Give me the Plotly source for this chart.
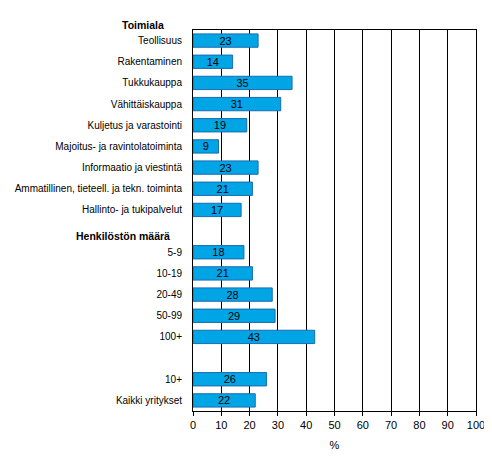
"""Horizontal bar chart: share of enterprises by industry and size class"""

import plotly.graph_objects as go

# Category labels (empty strings are spacer rows between groups)
industries = ['Teollisuus', 'Rakentaminen', 'Tukkukauppa', 'Vähittäiskauppa',
              'Kuljetus ja varastointi', 'Majoitus- ja ravintolatoiminta',
              'Informaatio ja viestintä', 'Ammatillinen, tieteell. ja tekn. toiminta',
              'Hallinto- ja tukipalvelut']
industry_values = [23, 14, 35, 31, 19, 9, 23, 21, 17]

size_classes = ['5-9', '10-19', '20-49', '50-99', '100+']
size_values = [18, 21, 28, 29, 43]

totals = ['10+', 'Kaikki yritykset']
total_values = [26, 22]

x_ticks = [0, 10, 20, 30, 40, 50, 60, 70, 80, 90, 100]

# Spacer rows keep the gaps between the groups
categories = industries + [' '] + size_classes + ['  '] + totals
values = industry_values + [None] + size_values + [None] + total_values
labels = [str(v) if v is not None else '' for v in values]

font_family = 'Arial, Liberation Sans, sans-serif'

fig = go.Figure(go.Bar(
    x=values,
    y=categories,
    orientation='h',
    text=labels,
    textposition='inside',
    insidetextanchor='middle',
    textangle=0,
    constraintext='none',
    textfont=dict(color='black', size=11, family=font_family),
    marker=dict(color='#00A5E6', line=dict(color='#1A6BB0', width=1)),
    hoverinfo='x+y',
))

# page body adds 8px margin, so the figure is a bit smaller than the window
fig.update_layout(
    width=484, height=463,
    margin=dict(l=185, r=16, t=22, b=60),
    paper_bgcolor='white', plot_bgcolor='white',
    font=dict(family=font_family, size=10, color='black'),
    bargap=0.37,
    showlegend=False,
    xaxis=dict(range=[0, 100], tickvals=x_ticks, showgrid=True, gridcolor='black',
               gridwidth=1, showline=True, linecolor='black', linewidth=1, mirror=True,
               ticks='outside', ticklen=4, tickcolor='black', zeroline=False,
               tickfont=dict(size=11), automargin=False,
               title=dict(text='%', standoff=11, font=dict(size=11)), fixedrange=True),
    yaxis=dict(categoryorder='array', categoryarray=categories, autorange='reversed',
               showline=True, linecolor='black', linewidth=1, mirror=True,
               showgrid=False, ticks='', ticklabelstandoff=8, automargin=False,
               fixedrange=True),
    annotations=[
        dict(text='<b>Toimiala</b>', xref='paper', yref='paper', x=-0.095, y=1.013,
             xanchor='right', yanchor='middle', showarrow=False,
             font=dict(size=10.5, family=font_family)),
        dict(text='<b>Henkilöstön määrä</b>', xref='paper', yref='paper', x=-0.074, y=0.459,
             xanchor='right', yanchor='middle', showarrow=False,
             font=dict(size=10.5, family=font_family)),
    ],
)

fig.write_html('out.html')
